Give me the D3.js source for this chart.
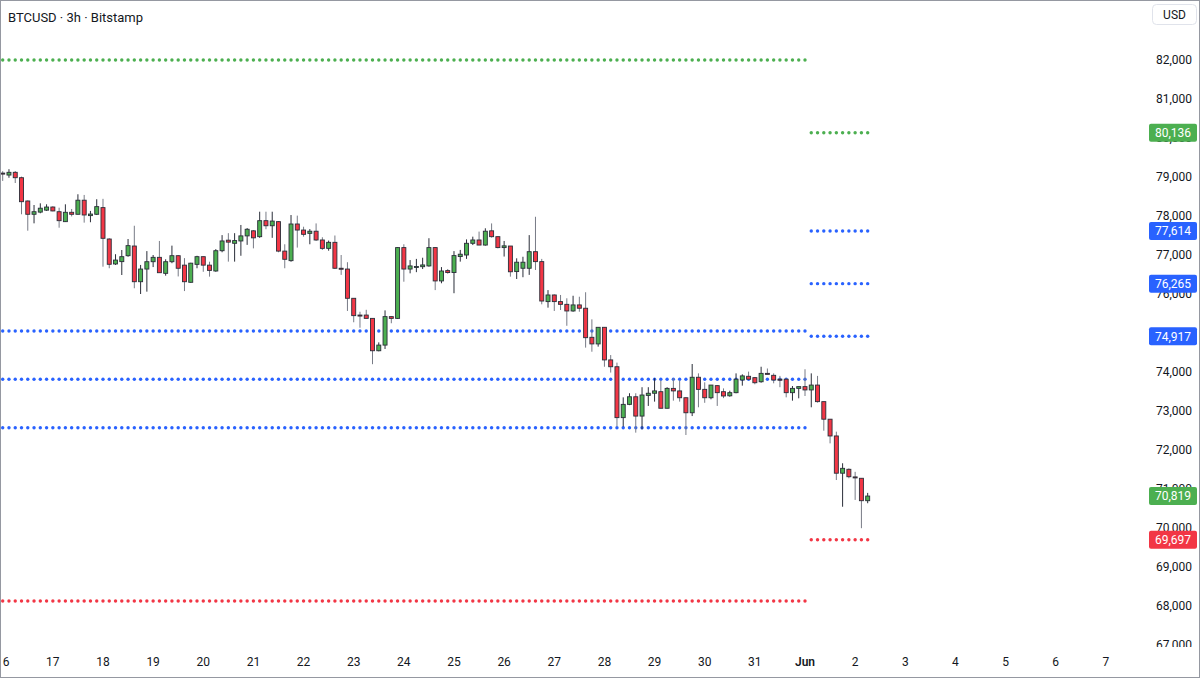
<!DOCTYPE html>
<html>
<head>
<meta charset="utf-8">
<script src="https://cdn.jsdelivr.net/npm/d3@7"></script>
<style>
  body { margin: 0; background: #fff; }
  svg { display: block; font-family: Roboto, "Noto Sans", sans-serif; }
</style>
</head>
<body>
<svg id="chart"></svg>
<script>
// 3h candles, first one is 16 May 00:00 UTC
var startDate = Date.UTC(2025, 4, 16, 0);

var opens = [79100,79050,79120,78982,78385,78044,78100,78150,78230,78110,77855,78095,78044,78405,78010,78044,78215,77410,76770,76830,
  76982,77230,76315,76640,76828,76940,76530,76828,76982,76740,76300,76760,76957,76740,76590,77110,77380,77300,77360,77490,
  77620,77470,77880,77750,77855,77100,76855,77795,77640,77555,77610,77385,77170,77325,76660,76640,75890,75460,75460,75375,
  74545,74690,75420,75375,77190,76640,76700,76700,76720,77190,76335,76600,76550,76960,77000,77300,77385,77255,77620,77470,
  77190,77230,76575,76660,76660,77085,76830,75805,75975,75805,75735,75565,75720,75635,74890,74720,75146,74310,74135,72830,
  73170,73365,72870,73400,73455,73495,73070,73580,73515,73340,72955,73865,73555,73340,73650,73495,73390,73470,73795,73890,
  73855,73750,73965,73915,73815,73815,73470,73580,73625,73540,73665,73240,72790,72360,71405,71505,71310,71275,70700];
var highs = [79150,79200,79154,79010,78400,78282,78325,78300,78250,78213,78300,78180,78557,78540,78130,78430,78440,77430,77020,77128,
  77410,77750,76745,77100,77000,77360,76890,77240,77000,76920,76800,76980,76960,76828,77150,77510,77560,77560,77770,77690,
  77640,78110,78110,78110,77870,77275,78025,78010,77725,77665,77810,77455,77370,77500,77000,76815,75890,75545,75595,75375,
  74760,75580,75430,77200,77275,76870,76900,76930,77430,77200,76690,76640,77100,77130,77400,77470,77600,77685,77810,77470,
  77360,77230,76915,76955,77510,77980,76900,76100,75990,75975,75890,75955,75930,76045,75350,75150,75150,74435,74240,73350,
  73455,73455,73610,73610,73840,73780,73610,73840,73780,73350,74205,73965,73735,73665,73665,73580,73520,73965,73940,74010,
  73870,74135,74090,73965,73900,73840,73640,73625,74070,73965,73900,73240,72790,72470,71660,71530,71440,71275,70900];
var lows = [78900,78980,78846,78044,77623,77812,78070,78130,78120,77700,77850,77990,78040,77830,77840,78025,76700,76660,76745,76487,
  76955,76147,76000,76060,76690,76546,76470,76790,76450,76075,76290,76660,76570,76445,76570,77070,76830,76830,76980,77260,
  77170,77440,77660,77440,77070,76660,76828,77190,77470,77275,77360,77130,77110,76640,76490,75565,75275,75135,75375,74200,
  74530,74590,75250,75360,76315,76530,76560,76640,76700,76100,76275,76520,76020,76830,76900,77255,77255,77240,77445,77170,
  76960,76445,76385,76430,76490,76615,75735,75650,75565,75590,75185,75545,75545,74625,74520,74650,74135,73985,72600,72600,
  73150,72445,72530,73130,73240,73070,73070,73265,73240,72385,72870,73095,73210,73300,73130,73330,73365,73455,73650,73795,
  73685,73725,73940,73710,73610,73350,73265,73325,73385,73095,73215,72495,72170,71230,70545,71275,70720,69995,70635];
var closes = [79090,79120,78982,78367,78044,78110,78200,78230,78130,77880,78095,78044,78405,78026,78050,78240,77428,76762,76870,76957,
  77240,76315,76640,76828,76940,76546,76828,76982,76660,76315,76790,76957,76740,76605,77110,77360,77330,77370,77490,77660,
  77440,77880,77750,77870,77100,76890,77795,77640,77530,77610,77385,77170,77325,76660,76650,75890,75445,75450,75375,74545,
  74690,75420,75375,77190,76640,76720,76705,76745,77190,76335,76590,76550,76985,77020,77300,77385,77255,77610,77470,77190,
  77235,76570,76815,76815,77085,76830,75820,75975,75805,75735,75565,75720,75635,74880,74720,75146,74310,74135,72830,73170,
  73365,72870,73410,73455,73515,73070,73580,73515,73340,72955,73865,73555,73340,73665,73470,73385,73470,73815,73900,73815,
  73725,73965,73960,73795,73810,73470,73580,73625,73540,73665,73240,72790,72360,71405,71530,71315,71290,70700,70819];

// dotted levels (candle index range for each)
var levelValues = [82000, 75050, 73813, 72572, 68128, 80136, 77614, 76265, 74917, 69697];
var levelColors = ["green", "blue", "blue", "blue", "red", "green", "blue", "blue", "blue", "red"];
var levelFrom = [0, 0, 0, 0, 0, 129, 129, 129, 129, 129];
var levelTo = [128, 128, 128, 128, 128, 138, 138, 138, 138, 138];
var labelLevels = [80136, 77614, 76265, 74917, 69697];
var labelColors = ["green", "blue", "blue", "blue", "red"];
var lastPrice = 70819;

var priceTicks = d3.range(67000, 82001, 1000);

var palette = { green: "#4caf50", blue: "#2962ff", red: "#f23645" };

var width = 1200, height = 678;
var plotRight = 1140, plotBottom = 648;

var svg = d3.select("#chart").attr("width", width).attr("height", height);

var x = d3.scaleUtc()
  .domain([new Date(Date.UTC(2025, 4, 16)), new Date(Date.UTC(2025, 5, 1))])
  .range([2.7, 805]);
var y = d3.scaleLinear().domain([67000, 82000]).range([645, 60]);

function candleDate(i) { return new Date(startDate + i * 3 * 3600 * 1000); }

var candles = opens.map(function(o, i) {
  return { date: candleDate(i), open: o, high: highs[i], low: lows[i], close: closes[i] };
});

svg.append("defs").append("clipPath").attr("id", "plotClip")
  .append("rect").attr("x", 0).attr("y", 0).attr("width", plotRight).attr("height", plotBottom);
svg.select("defs").append("clipPath").attr("id", "axisClip")
  .append("rect").attr("x", plotRight).attr("y", 0).attr("width", width - plotRight).attr("height", plotBottom - 1);

var plot = svg.append("g").attr("clip-path", "url(#plotClip)");

// dotted levels, one dot per bar
levelValues.forEach(function(v, k) {
  var idx = d3.range(levelFrom[k], levelTo[k] + 1);
  plot.append("g").selectAll("circle")
    .data(idx)
    .enter().append("circle")
      .attr("cx", function(i) { return x(candleDate(i)); })
      .attr("cy", y(v))
      .attr("r", 1.7)
      .attr("fill", palette[levelColors[k]]);
});

// candles
var cg = plot.append("g").selectAll("g")
  .data(candles)
  .enter().append("g");

cg.append("line")
  .attr("x1", function(d) { return x(d.date); })
  .attr("x2", function(d) { return x(d.date); })
  .attr("y1", function(d) { return y(d.high); })
  .attr("y2", function(d) { return y(d.low); })
  .attr("stroke", function(d) { return d.close >= d.open ? "#2a2e39" : "#787b86"; })
  .attr("stroke-width", 1);

cg.append("rect")
  .attr("x", function(d) { return x(d.date) - 2; })
  .attr("width", 4)
  .attr("y", function(d) { return y(Math.max(d.open, d.close)); })
  .attr("height", function(d) { return Math.max(1, Math.abs(y(d.open) - y(d.close))); })
  .attr("fill", function(d) { return d.close >= d.open ? "#4caf50" : "#f23645"; })
  .attr("stroke", "#2a2e39")
  .attr("stroke-width", 0.9);

// price axis
var axisG = svg.append("g").attr("clip-path", "url(#axisClip)");
axisG.selectAll("text.tick")
  .data(priceTicks)
  .enter().append("text")
    .attr("class", "tick")
    .attr("x", 1174)
    .attr("y", function(d) { return y(d); })
    .attr("dy", "0.35em")
    .attr("text-anchor", "middle")
    .attr("font-size", 12)
    .attr("fill", "#131722")
    .text(function(d) { return d3.format(",")(d); });

var labels = labelLevels.map(function(v, i) { return { value: v, color: palette[labelColors[i]] }; });
labels.push({ value: lastPrice, color: palette.green });

var lab = axisG.selectAll("g.lab")
  .data(labels)
  .enter().append("g");
lab.append("rect")
  .attr("x", 1149)
  .attr("y", function(d) { return y(d.value) - 9; })
  .attr("width", 48)
  .attr("height", 18)
  .attr("rx", 2)
  .attr("fill", function(d) { return d.color; });
lab.append("text")
  .attr("x", 1173)
  .attr("y", function(d) { return y(d.value); })
  .attr("dy", "0.36em")
  .attr("text-anchor", "middle")
  .attr("font-size", 12)
  .attr("fill", "#fff")
  .text(function(d) { return d3.format(",")(d.value); });

// time axis
var dayTicks = d3.utcDay.range(new Date(Date.UTC(2025, 4, 16)), new Date(Date.UTC(2025, 5, 8)));
svg.append("g").selectAll("text")
  .data(dayTicks)
  .enter().append("text")
    .attr("x", function(d) { return x(d); })
    .attr("y", 662)
    .attr("dy", "0.35em")
    .attr("text-anchor", "middle")
    .attr("font-size", 12)
    .attr("font-weight", function(d) { return d.getUTCDate() === 1 ? 600 : 400; })
    .attr("fill", "#131722")
    .text(function(d) { return d.getUTCDate() === 1 ? "Jun" : d.getUTCDate(); });

// header
svg.append("text")
  .attr("x", 8).attr("y", 22)
  .attr("font-size", 13)
  .attr("fill", "#131722")
  .text("BTCUSD · 3h · Bitstamp");

// currency button
svg.append("rect")
  .attr("x", 1152.5).attr("y", 4.5).attr("width", 44).attr("height", 20)
  .attr("rx", 4).attr("fill", "#fff").attr("stroke", "#e0e3eb");
svg.append("text")
  .attr("x", 1174.5).attr("y", 15).attr("dy", "0.35em")
  .attr("text-anchor", "middle").attr("font-size", 12).attr("fill", "#131722")
  .text("USD");

// frame
svg.append("rect")
  .attr("x", 0.5).attr("y", 0.5).attr("width", width - 1).attr("height", height - 1)
  .attr("fill", "none").attr("stroke", "#9598a1");
</script>
</body>
</html>
